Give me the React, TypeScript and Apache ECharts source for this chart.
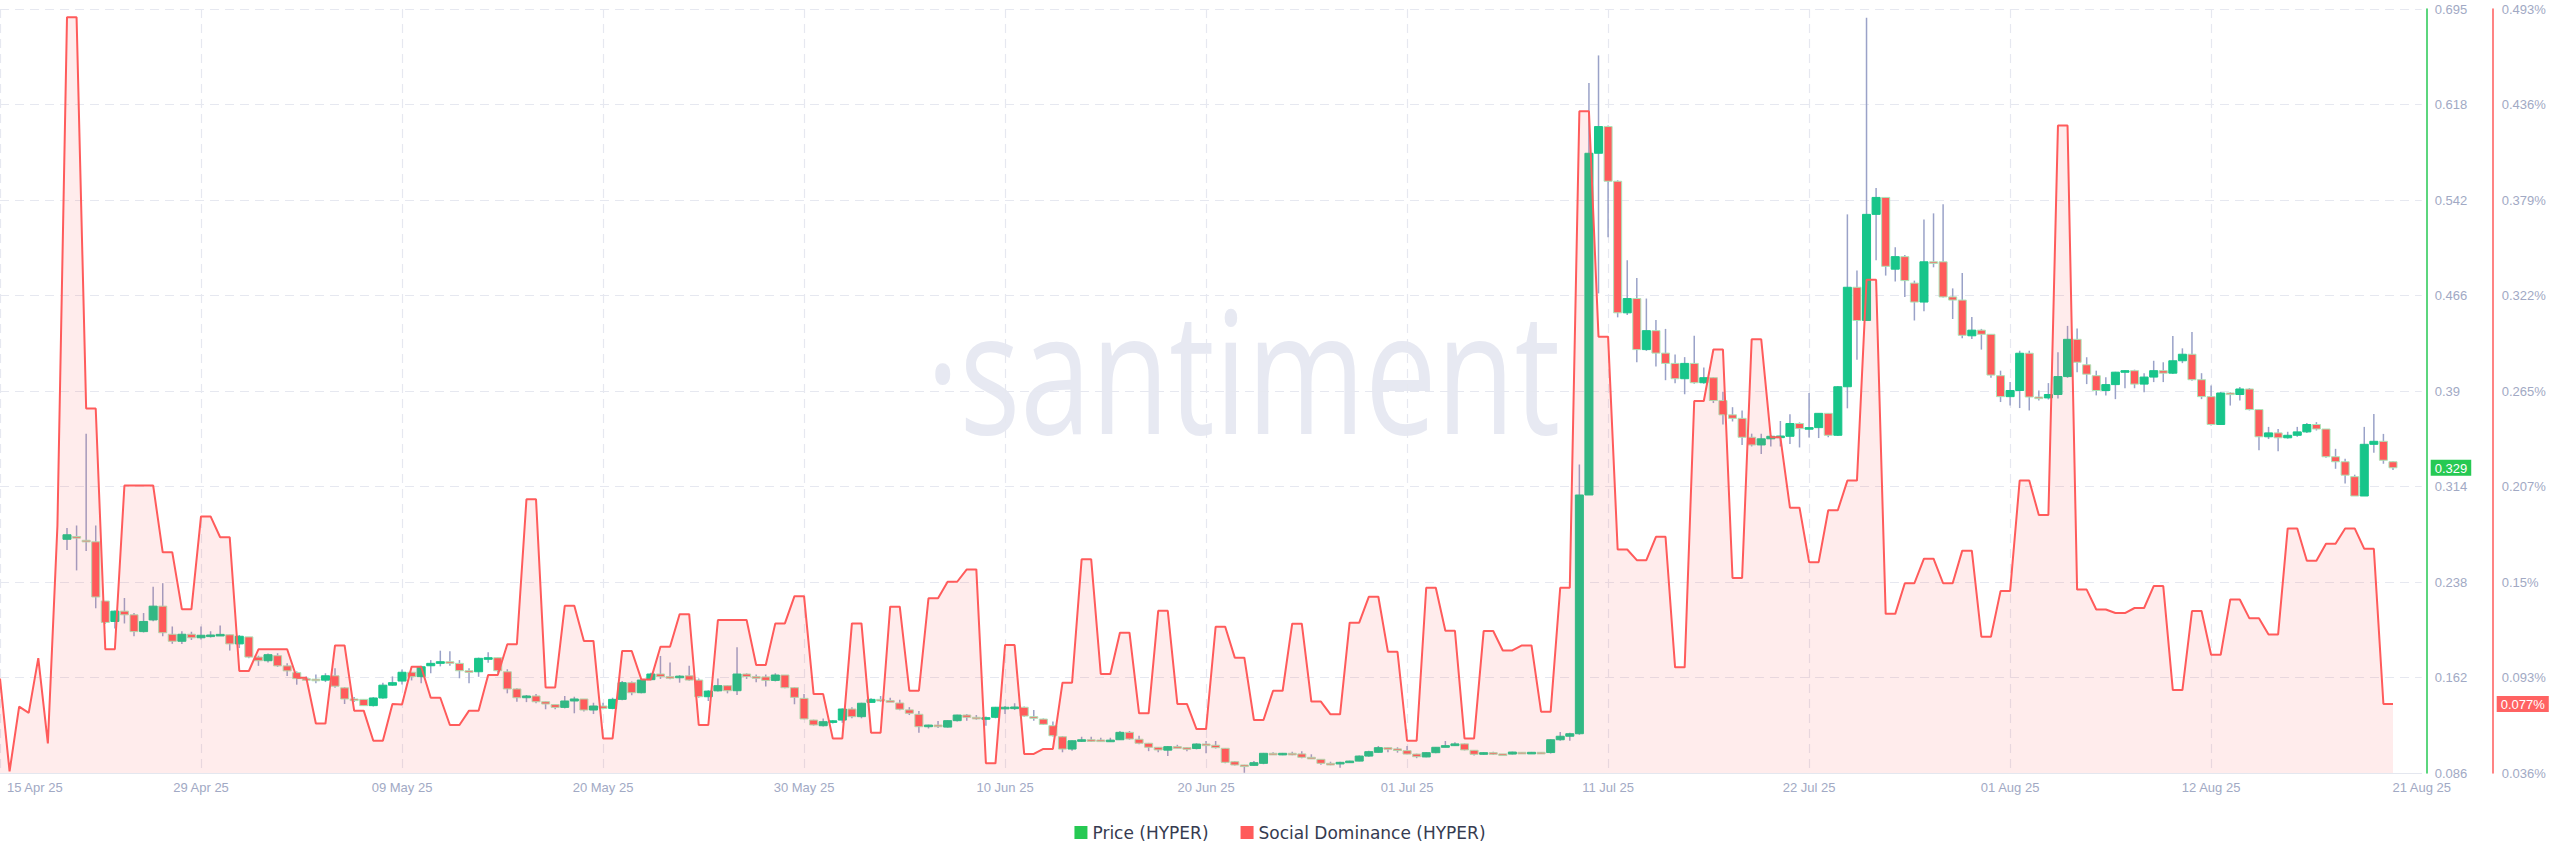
import React, { useEffect, useRef } from 'react';
import * as echarts from 'echarts';

// ---- x axis tick labels (category index -> label) ----
const tickIdx = [0, 21, 42, 63, 84, 105, 126, 147, 168, 189, 210, 231, 253];
const tickLabels = ['15 Apr 25', '29 Apr 25', '09 May 25', '20 May 25', '30 May 25', '10 Jun 25', '20 Jun 25', '01 Jul 25', '11 Jul 25', '22 Jul 25', '01 Aug 25', '12 Aug 25', '21 Aug 25'];
const categoryCount = 254;

// ---- y axis tick labels ----
const priceMin = 0.086;
const priceMax = 0.695;
const priceTicks = ['0.086', '0.162', '0.238', '0.314', '0.39', '0.466', '0.542', '0.618', '0.695'];
const domMin = 0.036;
const domMax = 0.493;
const domTicks = ['0.036%', '0.093%', '0.15%', '0.207%', '0.265%', '0.322%', '0.379%', '0.436%', '0.493%'];

// ---- Social Dominance (HYPER), % ----
const dominance = [
  0.0925, 0.037, 0.0757, 0.072, 0.1047, 0.0537, 0.184, 0.488, 0.488, 0.254,
  0.254, 0.110, 0.110, 0.208, 0.208, 0.208, 0.208, 0.168, 0.168, 0.134,
  0.134, 0.1895, 0.1895, 0.177, 0.177, 0.097, 0.097, 0.110, 0.110, 0.110,
  0.110, 0.093, 0.093, 0.0656, 0.0656, 0.1123, 0.1123, 0.0733, 0.0733, 0.0553,
  0.0553, 0.0773, 0.077, 0.0996, 0.0996, 0.081, 0.081, 0.0647, 0.0647, 0.0733,
  0.0733, 0.0946, 0.0946, 0.113, 0.113, 0.1997, 0.1997, 0.0872, 0.0872, 0.136,
  0.136, 0.115, 0.115, 0.0567, 0.0567, 0.109, 0.109, 0.092, 0.092, 0.1115,
  0.1115, 0.131, 0.131, 0.0647, 0.0647, 0.1275, 0.1275, 0.1275, 0.1275, 0.1006,
  0.1006, 0.1255, 0.1255, 0.1418, 0.1418, 0.0832, 0.0832, 0.0567, 0.0567, 0.1255,
  0.1255, 0.0601, 0.0601, 0.1355, 0.1355, 0.0852, 0.0852, 0.1405, 0.1405, 0.1504,
  0.1504, 0.1578, 0.1578, 0.0418, 0.0418, 0.1125, 0.1125, 0.0474, 0.0474, 0.0504,
  0.0504, 0.090, 0.090, 0.1638, 0.1638, 0.0952, 0.0952, 0.1199, 0.1199, 0.0717,
  0.0717, 0.133, 0.133, 0.0773, 0.0773, 0.0623, 0.0623, 0.1235, 0.1235, 0.105,
  0.105, 0.0677, 0.0677, 0.0852, 0.0852, 0.1253, 0.1253, 0.0787, 0.0787, 0.0711,
  0.0711, 0.1259, 0.1259, 0.1414, 0.1414, 0.1085, 0.1085, 0.0553, 0.0553, 0.1468,
  0.1468, 0.1211, 0.1211, 0.0567, 0.0567, 0.1209, 0.1209, 0.1093, 0.1093, 0.1123,
  0.1123, 0.0727, 0.0727, 0.1468, 0.1468, 0.4318, 0.4318, 0.297, 0.297, 0.1697,
  0.1697, 0.1633, 0.1633, 0.1773, 0.1773, 0.0992, 0.0992, 0.2585, 0.2585, 0.2893,
  0.2893, 0.1526, 0.1526, 0.2954, 0.2954, 0.2368, 0.2368, 0.1947, 0.1947, 0.1621,
  0.1621, 0.1932, 0.1932, 0.2109, 0.2109, 0.331, 0.331, 0.1312, 0.1312, 0.1495,
  0.1495, 0.1642, 0.1642, 0.1495, 0.1495, 0.169, 0.169, 0.1175, 0.1175, 0.1448,
  0.1448, 0.2109, 0.2109, 0.1903, 0.1903, 0.4233, 0.4233, 0.1457, 0.1457, 0.1338,
  0.1338, 0.1317, 0.1317, 0.1347, 0.1347, 0.1478, 0.1478, 0.0856, 0.0856, 0.1329,
  0.1329, 0.1067, 0.1067, 0.1398, 0.1398, 0.1285, 0.1285, 0.1189, 0.1189, 0.1823,
  0.1823, 0.163, 0.163, 0.1731, 0.1731, 0.1823, 0.1823, 0.1701, 0.1701, 0.0773,
  0.0773,
];

// ---- Price (HYPER) candles, starting at category index priceStart ----
const priceStart = 7;
const openP = [
  0.2723, 0.2745, 0.2715, 0.2703, 0.2231, 0.2068, 0.215, 0.2121, 0.1987, 0.208,
  0.219, 0.1966, 0.191, 0.1966, 0.1938, 0.1958, 0.196, 0.1962, 0.1889, 0.1945,
  0.1784, 0.1755, 0.1795, 0.1714, 0.166, 0.1612, 0.1608, 0.16, 0.1635, 0.1539,
  0.145, 0.1447, 0.1397, 0.1458, 0.156, 0.1593, 0.1663, 0.1628, 0.1715, 0.1734,
  0.1747, 0.1734, 0.1675, 0.1667, 0.1774, 0.1779, 0.1667, 0.153, 0.146, 0.1474,
  0.1428, 0.1405, 0.1383, 0.1434, 0.145, 0.1362, 0.1394, 0.1375, 0.1447, 0.158,
  0.15, 0.1604, 0.1649, 0.1628, 0.162, 0.1635, 0.1601, 0.1468, 0.1515, 0.1556,
  0.1516, 0.1649, 0.1628, 0.1626, 0.1598, 0.1641, 0.154, 0.1455, 0.1282, 0.1237,
  0.1269, 0.1282, 0.137, 0.1309, 0.1423, 0.1447, 0.1437, 0.1418, 0.1363, 0.1328,
  0.1229, 0.1242, 0.1226, 0.1277, 0.1322, 0.1304, 0.1298, 0.1304, 0.1384, 0.1384,
  0.1384, 0.1309, 0.129, 0.1237, 0.1149, 0.1051, 0.1117, 0.1125, 0.1123, 0.112,
  0.1125, 0.1184, 0.1129, 0.1097, 0.1065, 0.1042, 0.107, 0.1062, 0.1055, 0.1091,
  0.1081, 0.1057, 0.095, 0.0924, 0.0921, 0.0937, 0.1017, 0.1006, 0.1017, 0.1012,
  0.0985, 0.0969, 0.0937, 0.0935, 0.0945, 0.0955, 0.0995, 0.1025, 0.1062, 0.1052,
  0.1038, 0.1011, 0.0988, 0.1022, 0.1065, 0.1078, 0.1092, 0.1041, 0.1009, 0.1022,
  0.1012, 0.1011, 0.1025, 0.1023, 0.1025, 0.1023, 0.1125, 0.1153, 0.1173, 0.3076,
  0.58, 0.6013, 0.5577, 0.4528, 0.4642, 0.4235, 0.4386, 0.4207, 0.4125, 0.4003,
  0.4125, 0.3971, 0.4011, 0.3829, 0.3715, 0.3687, 0.3536, 0.3475, 0.3524, 0.3544,
  0.3544, 0.3646, 0.3605, 0.3613, 0.3727, 0.3552, 0.3939, 0.4732, 0.4467, 0.5313,
  0.5448, 0.4876, 0.4976, 0.4765, 0.4614, 0.4935, 0.4935, 0.4655, 0.463, 0.4345,
  0.439, 0.4357, 0.4027, 0.386, 0.3909, 0.4206, 0.3857, 0.385, 0.3877, 0.402,
  0.4317, 0.4114, 0.4027, 0.3909, 0.3956, 0.4055, 0.4067, 0.396, 0.4016, 0.4067,
  0.4047, 0.4146, 0.4198, 0.3995, 0.386, 0.3638, 0.3889, 0.3877, 0.3921, 0.3757,
  0.354, 0.3571, 0.3532, 0.3552, 0.3579, 0.3638, 0.3602, 0.3381, 0.3341, 0.3222,
  0.3068, 0.348, 0.3504, 0.3341,
];
const closeP = [
  0.2759, 0.2738, 0.2708, 0.2263, 0.206, 0.215, 0.2121, 0.1987, 0.2068, 0.219,
  0.1978, 0.191, 0.1966, 0.1938, 0.1958, 0.196, 0.1965, 0.1889, 0.195, 0.1784,
  0.1755, 0.1803, 0.1714, 0.1674, 0.1612, 0.1608, 0.16, 0.1635, 0.1552, 0.145,
  0.1447, 0.1397, 0.1458, 0.156, 0.158, 0.1663, 0.1628, 0.1707, 0.1734, 0.1747,
  0.174, 0.1675, 0.1665, 0.1774, 0.1779, 0.1675, 0.153, 0.146, 0.1474, 0.1428,
  0.141, 0.1383, 0.1434, 0.145, 0.1362, 0.1394, 0.1375, 0.1447, 0.158, 0.15,
  0.1601, 0.1649, 0.1628, 0.162, 0.1632, 0.1601, 0.1468, 0.1513, 0.1556, 0.1516,
  0.1649, 0.1628, 0.1626, 0.1598, 0.1641, 0.154, 0.1463, 0.1291, 0.1243, 0.1269,
  0.1276, 0.137, 0.1309, 0.1416, 0.1447, 0.1437, 0.1431, 0.1368, 0.1336, 0.1229,
  0.1242, 0.1229, 0.1277, 0.1322, 0.1304, 0.1298, 0.1301, 0.1384, 0.1384, 0.1386,
  0.1314, 0.1304, 0.1248, 0.1157, 0.1051, 0.1117, 0.1125, 0.1123, 0.112, 0.1122,
  0.1184, 0.1131, 0.1097, 0.1065, 0.1044, 0.107, 0.1062, 0.1055, 0.1091, 0.1081,
  0.1062, 0.0945, 0.0924, 0.0922, 0.0942, 0.1017, 0.1006, 0.1017, 0.1016, 0.0985,
  0.098, 0.0937, 0.0935, 0.0945, 0.0955, 0.0995, 0.103, 0.1062, 0.1052, 0.1051,
  0.1011, 0.099, 0.1022, 0.1065, 0.1078, 0.1092, 0.1044, 0.1009, 0.1022, 0.1012,
  0.1006, 0.1027, 0.1023, 0.1025, 0.1018, 0.1125, 0.1153, 0.1173, 0.3076, 0.58,
  0.6013, 0.5577, 0.4528, 0.4642, 0.4235, 0.4386, 0.4207, 0.4125, 0.4003, 0.4125,
  0.3971, 0.4011, 0.3829, 0.3715, 0.3687, 0.3536, 0.3475, 0.3524, 0.3544, 0.3546,
  0.3646, 0.3605, 0.3613, 0.3727, 0.3552, 0.3939, 0.4732, 0.4467, 0.5313, 0.5448,
  0.4899, 0.4976, 0.4785, 0.4614, 0.4935, 0.4925, 0.4655, 0.463, 0.4349, 0.439,
  0.4357, 0.4032, 0.386, 0.3909, 0.4206, 0.3857, 0.385, 0.3877, 0.402, 0.4317,
  0.4134, 0.4039, 0.3909, 0.3956, 0.4055, 0.4067, 0.396, 0.4016, 0.4067, 0.4047,
  0.4146, 0.4198, 0.3995, 0.386, 0.3638, 0.3889, 0.3877, 0.3921, 0.3757, 0.354,
  0.3571, 0.3532, 0.3552, 0.3579, 0.3638, 0.3602, 0.3381, 0.3341, 0.3234, 0.3068,
  0.348, 0.3504, 0.3353, 0.3293,
];
const lowP = [
  0.2637, 0.2475, 0.2629, 0.2173, 0.205, 0.2011, 0.2052, 0.195, 0.198, 0.207,
  0.195, 0.189, 0.1888, 0.192, 0.1925, 0.194, 0.1955, 0.1836, 0.1856, 0.1775,
  0.1714, 0.174, 0.1706, 0.1633, 0.1564, 0.1595, 0.1575, 0.1585, 0.154, 0.141,
  0.1425, 0.1395, 0.139, 0.1452, 0.1555, 0.1565, 0.1598, 0.1575, 0.1655, 0.171,
  0.1715, 0.1615, 0.1575, 0.1627, 0.1739, 0.166, 0.1495, 0.1428, 0.1425, 0.1415,
  0.1368, 0.1368, 0.1375, 0.1336, 0.135, 0.133, 0.1368, 0.1368, 0.144, 0.148,
  0.1495, 0.16, 0.161, 0.1607, 0.158, 0.1595, 0.146, 0.1434, 0.151, 0.1495,
  0.1482, 0.161, 0.1583, 0.155, 0.159, 0.1535, 0.1408, 0.1288, 0.1238, 0.123,
  0.1255, 0.126, 0.1296, 0.1296, 0.142, 0.1425, 0.1425, 0.136, 0.1322, 0.1181,
  0.1215, 0.1218, 0.1222, 0.127, 0.1277, 0.1285, 0.1237, 0.1296, 0.133, 0.1362,
  0.1309, 0.1277, 0.1243, 0.115, 0.1025, 0.1038, 0.1107, 0.1107, 0.1107, 0.1107,
  0.1123, 0.1125, 0.109, 0.1034, 0.1025, 0.0995, 0.1058, 0.1034, 0.1048, 0.1017,
  0.1055, 0.0937, 0.092, 0.0862, 0.0918, 0.093, 0.1004, 0.1002, 0.1002, 0.0978,
  0.0977, 0.0925, 0.0922, 0.0902, 0.0942, 0.0953, 0.099, 0.1022, 0.1025, 0.1022,
  0.1009, 0.0978, 0.0985, 0.1018, 0.1065, 0.1075, 0.104, 0.1, 0.1006, 0.1004,
  0.1002, 0.1008, 0.1018, 0.1018, 0.1011, 0.1015, 0.1118, 0.1118, 0.1165, 0.3076,
  0.4683, 0.513, 0.4492, 0.451, 0.4134, 0.4225, 0.4101, 0.3991, 0.3967, 0.3879,
  0.3963, 0.3963, 0.3809, 0.3638, 0.3662, 0.3475, 0.3463, 0.3403, 0.3463, 0.3463,
  0.3483, 0.3455, 0.3535, 0.353, 0.3536, 0.3546, 0.3767, 0.4154, 0.4467, 0.4947,
  0.4825, 0.4777, 0.4655, 0.4467, 0.454, 0.4891, 0.465, 0.4479, 0.4325, 0.432,
  0.4235, 0.4011, 0.3817, 0.3789, 0.3769, 0.375, 0.383, 0.3837, 0.3845, 0.401,
  0.4055, 0.396, 0.387, 0.387, 0.384, 0.3927, 0.3927, 0.3895, 0.3976, 0.3976,
  0.404, 0.4127, 0.3987, 0.384, 0.363, 0.3635, 0.3789, 0.383, 0.375, 0.3433,
  0.3522, 0.3425, 0.3525, 0.354, 0.357, 0.359, 0.3373, 0.3285, 0.3167, 0.3068,
  0.3068, 0.3413, 0.3325, 0.3275,
];
const highP = [
  0.2813, 0.2833, 0.3564, 0.2833, 0.2231, 0.2155, 0.2255, 0.2135, 0.2135, 0.2345,
  0.2373, 0.2028, 0.199, 0.1986, 0.2028, 0.199, 0.2035, 0.1962, 0.196, 0.1945,
  0.1795, 0.1812, 0.1815, 0.1735, 0.167, 0.163, 0.1645, 0.1655, 0.1694, 0.1545,
  0.1465, 0.1447, 0.1465, 0.158, 0.163, 0.1685, 0.1665, 0.1715, 0.176, 0.1835,
  0.183, 0.176, 0.1695, 0.178, 0.1822, 0.1779, 0.1687, 0.1535, 0.1482, 0.149,
  0.143, 0.1405, 0.1474, 0.1468, 0.145, 0.142, 0.142, 0.146, 0.1593, 0.159,
  0.161, 0.166, 0.1793, 0.174, 0.164, 0.1715, 0.1614, 0.152, 0.1614, 0.156,
  0.1862, 0.1655, 0.1645, 0.1645, 0.1655, 0.1641, 0.1545, 0.149, 0.1285, 0.1295,
  0.128, 0.1375, 0.1385, 0.142, 0.1455, 0.1474, 0.146, 0.1444, 0.1385, 0.1355,
  0.1245, 0.1275, 0.128, 0.1325, 0.133, 0.1322, 0.131, 0.1387, 0.1394, 0.1416,
  0.139, 0.1362, 0.1295, 0.127, 0.1155, 0.112, 0.1149, 0.1149, 0.1141, 0.1141,
  0.1195, 0.1195, 0.1157, 0.11, 0.1068, 0.1075, 0.1085, 0.1065, 0.1097, 0.1115,
  0.1115, 0.106, 0.0955, 0.0925, 0.0955, 0.102, 0.1025, 0.102, 0.103, 0.1033,
  0.1009, 0.097, 0.095, 0.095, 0.0958, 0.1, 0.1038, 0.1075, 0.1065, 0.1065,
  0.1075, 0.1014, 0.1025, 0.1068, 0.1115, 0.1105, 0.1095, 0.1043, 0.1025, 0.103,
  0.1012, 0.103, 0.1028, 0.1028, 0.1027, 0.1128, 0.1186, 0.118, 0.332, 0.636,
  0.658, 0.6021, 0.5585, 0.4947, 0.4805, 0.4642, 0.4471, 0.44, 0.4195, 0.4175,
  0.4345, 0.4093, 0.4015, 0.39, 0.3776, 0.375, 0.3565, 0.3565, 0.3555, 0.3666,
  0.3719, 0.3655, 0.389, 0.3727, 0.373, 0.3945, 0.5313, 0.4866, 0.688, 0.5524,
  0.5448, 0.505, 0.499, 0.4785, 0.5273, 0.5321, 0.5394, 0.4723, 0.4845, 0.4495,
  0.44, 0.4357, 0.4067, 0.3976, 0.4226, 0.4226, 0.3908, 0.3968, 0.4214, 0.4424,
  0.4404, 0.4174, 0.4067, 0.4015, 0.4058, 0.407, 0.4075, 0.4047, 0.4146, 0.4134,
  0.4344, 0.4245, 0.4376, 0.4047, 0.3948, 0.3897, 0.3895, 0.3937, 0.3929, 0.3761,
  0.3619, 0.3603, 0.358, 0.3619, 0.365, 0.3657, 0.3602, 0.3444, 0.3365, 0.3238,
  0.3619, 0.3722, 0.3563, 0.3345,
];

const GREEN_AXIS = '#26c953';
const CANDLE_UP = '#18c58a';
const RED = '#ff5b5b';
const WICK = '#9aa2c8';
const LABEL_COLOR = '#a1a9c4';
const LABEL_FONT = 'Liberation Sans';

export default function App() {
  const ref = useRef<HTMLDivElement>(null);

  useEffect(() => {
    document.body.style.margin = '0';
    const chart = echarts.init(ref.current as HTMLDivElement, undefined, { renderer: 'svg' });

    const categories = Array.from({ length: categoryCount }, (_, i) => String(i));
    const labelFor = (i: number) => {
      const k = tickIdx.indexOf(i);
      return k >= 0 ? tickLabels[k] : '';
    };
    const candleData = openP.map((o, k) => [k + priceStart, o, closeP[k], lowP[k], highP[k]]);
    const lastClose = closeP[closeP.length - 1];
    const lastDom = dominance[dominance.length - 1];
    const priceInterval = (priceMax - priceMin) / 8;
    const domInterval = (domMax - domMin) / 8;

    const option: any = {
      animation: false,
      backgroundColor: '#ffffff',
      grid: { left: 0, right: 138.3, top: 9, bottom: 94, containLabel: false },
      graphic: [
        {
          type: 'text',
          z: -10,
          x: 926,
          y: 368,
          scaleX: 0.75,
          silent: true,
          style: {
            text: '·santiment',
            fontFamily: 'Open Sans',
            fontWeight: 500,
            fontSize: 170,
            fill: '#e7e9f2',
            align: 'left',
            verticalAlign: 'middle',
          },
        },
      ],
      legend: {
        top: 824,
        left: 'center',
        padding: 0,
        itemWidth: 13,
        itemHeight: 13,
        itemGap: 32,
        icon: 'rect',
        selectedMode: false,
        textStyle: { fontFamily: 'DejaVu Sans', fontSize: 17, color: '#363b50' },
        data: [
          { name: 'Price (HYPER)', itemStyle: { color: GREEN_AXIS } },
          { name: 'Social Dominance (HYPER)', itemStyle: { color: RED } },
        ],
      },
      xAxis: {
        type: 'category',
        data: categories,
        boundaryGap: false,
        axisLine: { show: true, lineStyle: { color: '#e4e7ef', width: 1 } },
        axisTick: { show: false },
        axisLabel: {
          interval: (i: number) => tickIdx.indexOf(i) >= 0,
          formatter: (_v: string, i: number) => (i === 0 ? '{f|' + labelFor(i) + '}' : labelFor(i)),
          color: LABEL_COLOR,
          fontFamily: LABEL_FONT,
          fontSize: 13,
          margin: 8,
          alignMinLabel: 'left',
          rich: { f: { padding: [0, 0, 0, 7], color: LABEL_COLOR, fontFamily: LABEL_FONT, fontSize: 13 } },
        },
        splitLine: {
          show: true,
          interval: (i: number) => tickIdx.indexOf(i) >= 0 && i !== categoryCount - 1,
          lineStyle: { color: '#e6e8f0', width: 1.2, type: [9, 6] },
        },
      },
      yAxis: [
        {
          type: 'value',
          position: 'right',
          offset: 5,
          min: priceMin,
          max: priceMax,
          interval: priceInterval,
          axisLine: { show: true, lineStyle: { color: GREEN_AXIS, width: 1.5 } },
          axisTick: { show: false },
          axisLabel: {
            color: LABEL_COLOR,
            fontFamily: LABEL_FONT,
            fontSize: 13,
            margin: 8,
            formatter: (v: number) => priceTicks[Math.round((v - priceMin) / priceInterval)] ?? '',
          },
          splitLine: { show: true, lineStyle: { color: '#e6e8f0', width: 1.2, type: [9, 6] } },
          axisPointer: {
            show: true,
            type: 'line',
            snap: false,
            status: 'show',
            value: lastClose,
            triggerTooltip: false,
            lineStyle: { color: 'rgba(0,0,0,0)', width: 0 },
            label: {
              show: true,
              formatter: () => lastClose.toFixed(3),
              backgroundColor: GREEN_AXIS,
              color: '#ffffff',
              fontFamily: LABEL_FONT,
              fontSize: 13,
              padding: [2, 4, 1, 4],
              margin: 4,
              borderRadius: 0,
            },
          },
        },
        {
          type: 'value',
          position: 'right',
          offset: 71,
          min: domMin,
          max: domMax,
          interval: domInterval,
          axisLine: { show: true, lineStyle: { color: RED, width: 1.5 } },
          axisTick: { show: false },
          axisLabel: {
            color: LABEL_COLOR,
            fontFamily: LABEL_FONT,
            fontSize: 13,
            margin: 9,
            formatter: (v: number) => domTicks[Math.round((v - domMin) / domInterval)] ?? '',
          },
          splitLine: { show: false },
          axisPointer: {
            show: true,
            type: 'line',
            snap: false,
            status: 'show',
            value: lastDom,
            triggerTooltip: false,
            lineStyle: { color: 'rgba(0,0,0,0)', width: 0 },
            label: {
              show: true,
              formatter: () => lastDom.toFixed(3) + '%',
              backgroundColor: '#ff6262',
              color: '#ffffff',
              fontFamily: LABEL_FONT,
              fontSize: 13,
              padding: [2, 4, 1, 4],
              margin: 4,
              borderRadius: 0,
            },
          },
        },
      ],
      series: [
        {
          type: 'custom',
          name: 'Price (HYPER)',
          xAxisIndex: 0,
          yAxisIndex: 0,
          z: 2,
          itemStyle: { color: GREEN_AXIS },
          encode: { x: 0, y: [1, 2, 3, 4] },
          data: candleData,
          renderItem: (_params: any, api: any) => {
            const idx = api.value(0);
            const o = api.value(1);
            const c = api.value(2);
            const l = api.value(3);
            const h = api.value(4);
            const pO = api.coord([idx, o]);
            const pC = api.coord([idx, c]);
            const pL = api.coord([idx, l]);
            const pH = api.coord([idx, h]);
            const w = api.size([1, 0])[0] * 0.84;
            const up = c >= o;
            const top = Math.min(pO[1], pC[1]);
            const hgt = Math.max(Math.abs(pO[1] - pC[1]), 1.6);
            return {
              type: 'group',
              children: [
                {
                  type: 'line',
                  shape: { x1: pH[0], y1: pH[1], x2: pL[0], y2: pL[1] },
                  style: { stroke: WICK, lineWidth: 1.5 },
                },
                {
                  type: 'rect',
                  shape: { x: pO[0] - w / 2, y: top, width: w, height: hgt },
                  style: { fill: up ? CANDLE_UP : RED, stroke: up ? CANDLE_UP : '#a9e6b8', lineWidth: 1 },
                },
              ],
            };
          },
        },
        {
          type: 'line',
          name: 'Social Dominance (HYPER)',
          xAxisIndex: 0,
          yAxisIndex: 1,
          z: 3,
          data: dominance,
          symbol: 'none',
          showSymbol: false,
          lineStyle: { color: RED, width: 2 },
          itemStyle: { color: RED },
          areaStyle: { color: 'rgba(255, 91, 91, 0.16)' },
        },
      ],
    };

    chart.setOption(option);
    return () => chart.dispose();
  }, []);

  return (
    <div
      ref={ref}
      style={{ position: 'absolute', left: 0, top: 0, width: 2560, height: 867, background: '#ffffff' }}
    />
  );
}
